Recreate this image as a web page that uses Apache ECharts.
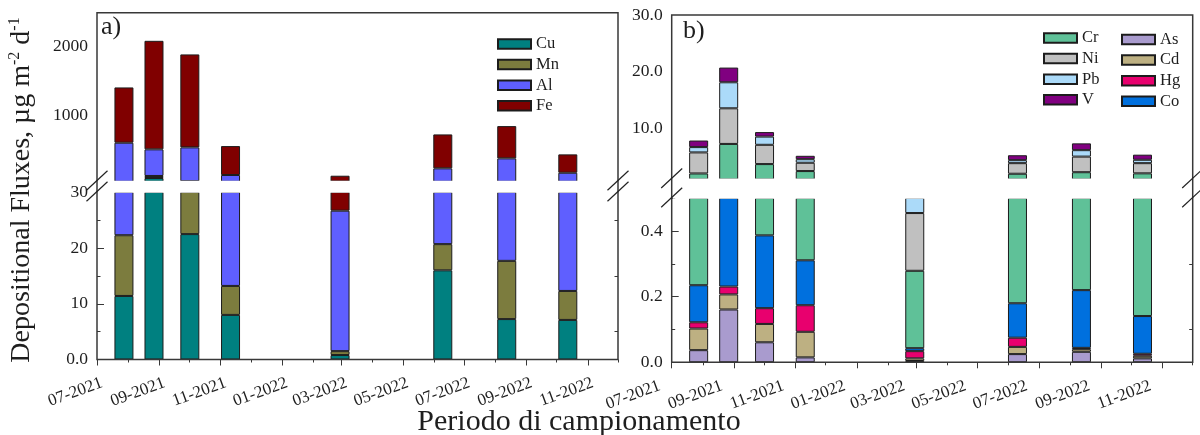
<!DOCTYPE html>
<html>
<head>
<meta charset="utf-8">
<title>Depositional Fluxes</title>
<script src="https://cdn.jsdelivr.net/npm/echarts@6.0.0/dist/echarts.min.js"></script>
<style>
  html, body { margin: 0; padding: 0; background: #fff; }
  #main { width: 1200px; height: 435px; }
</style>
</head>
<body>
<div id="main"></div>
<script>
// date at the middle of each sampling period (one bar each)
var sampleDates = ['2021-07-19', '2021-08-19', '2021-09-25', '2021-11-06',
                   '2022-02-27', '2022-06-13', '2022-08-18', '2022-10-20'];
// x tick labels (month-year)
var tickLabels = ['07-2021', '09-2021', '11-2021', '01-2022', '03-2022',
                  '05-2022', '07-2022', '09-2022', '11-2022'];

// panel a) - µg m-2 d-1, stacked bottom -> top
var namesA = ['Cu', 'Mn', 'Al', 'Fe'];
var Cu = [11.4, 78, 22.5, 8.0, 0.8, 16.0, 7.25, 7.1];
var Mn = [10.9, 30, 8.5, 5.2, 0.7, 4.7, 10.45, 5.2];
var Al = [573, 390, 496, 109, 25.2, 199, 348, 143];
var Fe = [810, 1590, 1362, 424, 85, 497, 473, 269];

// panel b) - µg m-2 d-1, stacked bottom -> top
var namesB = ['As', 'Cd', 'Hg', 'Co', 'Cr', 'Ni', 'Pb', 'V'];
var As = [0.037, 0.161, 0.061, 0.015, 0.004, 0.025, 0.032, 0.012];
var Cd = [0.066, 0.046, 0.056, 0.078, 0.008, 0.022, 0.008, 0.008];
var Hg = [0.019, 0.024, 0.048, 0.081, 0.022, 0.028, 0.004, 0.006];
var Co = [0.113, 0.60, 0.222, 0.137, 0.009, 0.105, 0.176, 0.115];
var Cr = [1.745, 6.37, 3.25, 2.09, 0.236, 1.75, 1.98, 1.86];
var Ni = [3.72, 6.3, 3.41, 1.47, 0.176, 1.87, 2.76, 1.8];
var Pb = [0.94, 4.6, 1.45, 0.63, 0.30, 0.53, 1.14, 0.6];
var V  = [1.16, 2.6, 0.8, 0.6, 0.0, 0.87, 1.2, 0.9];

// broken y axes: lower and upper part of each panel
var yA_lo = {min: 0, max: 30, labels: [0, 10, 20, 30], major: [10, 20], minor: [5, 15, 25]};
var yA_up = {min: 30, max: 2500, labels: [1000, 2000], major: [1000, 2000], minor: [500, 1500]};
var yB_lo = {min: 0, max: 0.5, labels: [0, 0.2, 0.4], major: [0.2, 0.4], minor: [0.1, 0.3, 0.5], right: [0.1, 0.3]};
var yB_up = {min: 1, max: 30, labels: [10, 20, 30], major: [10, 20], minor: [5, 15, 25]};

var colorsA = {Cu: '#008080', Mn: '#7c7c3e', Al: '#5f5fff', Fe: '#800000'};
var colorsB = {As: '#a99bce', Cd: '#bdb082', Hg: '#e8006e', Co: '#0070de',
               Cr: '#5fc198', Ni: '#c0c0c0', Pb: '#abdaf9', V: '#800080'};

var FONT = 'Liberation Serif';
var TXT = '#1e1e1e';
var FRAME = '#383838';

function ts(s) {
    var p = s.split('-').map(Number);
    return Date.UTC(p[0], p[1] - 1, p[2] || 1);
}
function labelTs(lab) {
    var p = lab.split('-').map(Number);
    return Date.UTC(p[1], p[0] - 1, 1);
}
var xPos = sampleDates.map(ts);
var majorX = tickLabels.map(labelTs);
var minorX = tickLabels.map(function (lab) {
    var p = lab.split('-').map(Number);
    return Date.UTC(p[1], p[0], 1);
});
var X_MIN = Date.UTC(2021, 6, 1), X_MAX = Date.UTC(2022, 11, 1);

// panel geometry (pixels); lblShift moves the x labels sideways
var P = [
    {left: 97, right: 618, upTop: 12.7, upBot: 181.3, loTop: 192.3, loBot: 359.5, lblShift: 5},
    {left: 671.7, right: 1192.7, upTop: 15, upBot: 179, loTop: 198.3, loBot: 362.3, lblShift: -12}
];

var grids = [], xAxes = [], yAxes = [], series = [];

function addGrid(left, width, top, bottom) {
    grids.push({left: left, top: top, width: width, height: bottom - top});
    return grids.length - 1;
}

function addYAxes(g, cfg, fmt) {
    var base = {type: 'value', gridIndex: g, min: cfg.min, max: cfg.max,
        axisLine: {show: false}, splitLine: {show: false}};
    var idx = yAxes.length;
    yAxes.push(Object.assign({}, base, {
        position: 'left',
        axisTick: {inside: true, length: 7, customValues: cfg.major, lineStyle: {color: FRAME}},
        axisLabel: {customValues: cfg.labels, formatter: fmt, margin: 9,
            fontFamily: FONT, fontSize: 17.5, color: TXT}
    }));
    yAxes.push(Object.assign({}, base, {
        position: 'left',
        axisTick: {inside: true, length: 3.5, customValues: cfg.minor, lineStyle: {color: FRAME}},
        axisLabel: {show: false}
    }));
    yAxes.push(Object.assign({}, base, {
        position: 'right',
        axisTick: {inside: true, length: 3.5, customValues: cfg.right || cfg.minor, lineStyle: {color: FRAME}},
        axisLabel: {show: false}
    }));
    return idx;
}

// data axis is a time axis (bars stack on y); ticks sit on value axes in ms
function addXAxes(g, withTicks) {
    var idx = xAxes.length;
    xAxes.push({type: 'time', gridIndex: g, position: 'bottom', min: X_MIN, max: X_MAX, show: false});
    if (!withTicks) return idx;
    var base = {type: 'value', gridIndex: g, position: 'bottom', offset: 0, min: X_MIN, max: X_MAX,
        axisLine: {show: false}, splitLine: {show: false}, axisLabel: {show: false}};
    xAxes.push(Object.assign({}, base, {
        axisTick: {inside: false, length: 6, customValues: majorX, lineStyle: {color: FRAME}}
    }));
    xAxes.push(Object.assign({}, base, {
        axisTick: {inside: false, length: 3, customValues: minorX, lineStyle: {color: FRAME}}
    }));
    return idx;
}

// labels on their own thin grid, slid sideways a few pixels like in the original figure
function addLabelGrid(pn) {
    var g = addGrid(pn.left + pn.lblShift, pn.right - pn.left, pn.loBot - 10, pn.loBot);
    xAxes.push({
        type: 'value', gridIndex: g, position: 'bottom', min: X_MIN, max: X_MAX,
        axisLine: {show: false}, splitLine: {show: false}, axisTick: {show: false},
        axisLabel: {customValues: majorX, rotate: 20, margin: 23, hideOverlap: false,
            fontFamily: FONT, fontSize: 17, color: TXT,
            formatter: function (v) { return tickLabels[majorX.indexOf(+v)] || ''; }}
    });
    yAxes.push({type: 'value', gridIndex: g, show: false});
}

function addStack(names, values, colors, xi, yi, stackId) {
    names.forEach(function (n, i) {
        series.push({
            name: n, type: 'bar', stack: stackId, xAxisIndex: xi, yAxisIndex: yi,
            barWidth: 19,
            itemStyle: {color: colors[n], borderColor: '#1c1c1c', borderWidth: 1},
            emphasis: {disabled: true},
            data: xPos.map(function (x, k) { return [x, values[i][k]]; })
        });
    });
}

var intFmt = function (v) { return v === 0 ? '0.0' : String(v); };
var decFmt = function (v) { return v.toFixed(1); };

function buildPanel(pn, yUp, yLo, fmt, names, vals, colors, key) {
    var w = pn.right - pn.left;
    var gu = addGrid(pn.left, w, pn.upTop, pn.upBot);
    var gl = addGrid(pn.left, w, pn.loTop, pn.loBot);
    var xu = addXAxes(gu, false), xl = addXAxes(gl, true);
    var yu = addYAxes(gu, yUp, fmt), yl = addYAxes(gl, yLo, fmt);
    addStack(names, vals, colors, xu, yu, key + 'up');
    addStack(names, vals, colors, xl, yl, key + 'lo');
    addLabelGrid(pn);
}

buildPanel(P[0], yA_up, yA_lo, intFmt, namesA, [Cu, Mn, Al, Fe], colorsA, 'a');
buildPanel(P[1], yB_up, yB_lo, decFmt, namesB, [As, Cd, Hg, Co, Cr, Ni, Pb, V], colorsB, 'b');

// frames, axis breaks, titles
var graphics = [];
P.forEach(function (pn) {
    // hide clipped bar edges in the break gap
    graphics.push({type: 'rect', z: 100, silent: true,
        shape: {x: pn.left + 1, y: pn.upBot - 0.5, width: pn.right - pn.left - 2, height: pn.loTop - pn.upBot + 1},
        style: {fill: '#fff'}});
    graphics.push({type: 'rect', z: 101, silent: true,
        shape: {x: pn.left, y: pn.upTop, width: pn.right - pn.left, height: pn.loBot - pn.upTop},
        style: {fill: null, stroke: FRAME, lineWidth: 1.5}});
    [pn.left, pn.right].forEach(function (x) {
        [pn.upBot + 8, pn.loTop + 8].forEach(function (y) {
            graphics.push({type: 'line', z: 102, silent: true,
                shape: {x1: x - 10.5, y1: y + 1, x2: x + 10.5, y2: y - 18.5},
                style: {stroke: '#222', lineWidth: 1.2}});
        });
    });
});
graphics.push({type: 'text', z: 103, x: 101, y: 14,
    style: {text: 'a)', font: '26px "' + FONT + '"', fill: TXT}});
graphics.push({type: 'text', z: 103, x: 683, y: 18,
    style: {text: 'b)', font: '26px "' + FONT + '"', fill: TXT}});
graphics.push({type: 'text', z: 103, x: 579, y: 422,
    style: {text: 'Periodo di campionamento', font: '30px "' + FONT + '"', fill: TXT,
        align: 'center', verticalAlign: 'middle'}});
graphics.push({type: 'text', z: 103, x: 22, y: 190, rotation: Math.PI / 2,
    style: {text: 'Depositional Fluxes, µg m{sup|-2} d{sup|-1}',
        fontFamily: FONT, fontSize: 28, lineHeight: 30, fill: TXT,
        align: 'center', verticalAlign: 'middle',
        rich: {sup: {fontFamily: FONT, fontSize: 16, lineHeight: 18, verticalAlign: 'top', fill: TXT}}}});

var legendBase = {orient: 'vertical', padding: 0, icon: 'rect', itemWidth: 33, itemHeight: 9.5, itemGap: 3.6,
    selectedMode: false, textStyle: {fontFamily: FONT, fontSize: 16.5, color: TXT}};

var option = {
    animation: false,
    backgroundColor: '#fff',
    grid: grids,
    xAxis: xAxes,
    yAxis: yAxes,
    legend: [
        Object.assign({}, legendBase, {left: 497, top: 35.5, data: namesA}),
        Object.assign({}, legendBase, {left: 1043, top: 29.5, data: ['Cr', 'Ni', 'Pb', 'V']}),
        Object.assign({}, legendBase, {left: 1121, top: 31, data: ['As', 'Cd', 'Hg', 'Co']})
    ],
    graphic: {elements: graphics},
    series: series
};

var myChart = echarts.init(document.getElementById('main'));
myChart.setOption(option);
</script>
</body>
</html>
